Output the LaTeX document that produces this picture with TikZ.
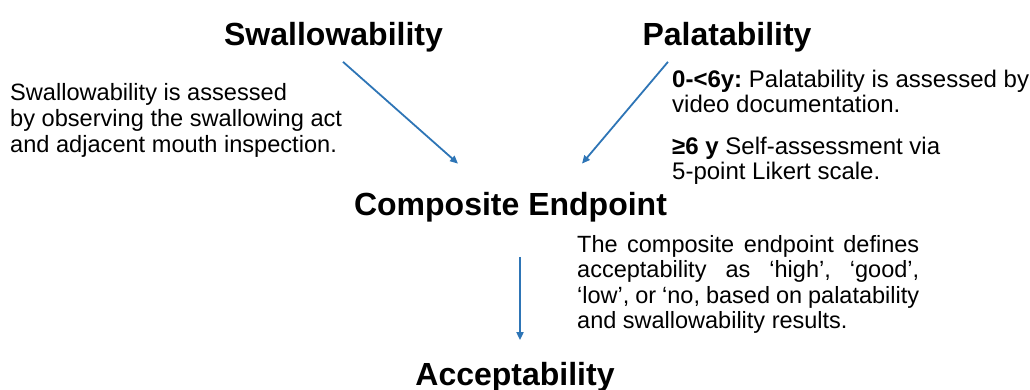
\documentclass[tikz,border=0pt]{standalone}
\usepackage{fontspec}
\setmainfont{Liberation Sans}
\usetikzlibrary{arrows.meta}
\definecolor{linkblue}{RGB}{46,117,182}
\frenchspacing

\begin{document}
\begin{tikzpicture}[x=1pt,y=-1pt,
  title/.style={inner sep=0pt,anchor=base,font=\fontsize{32}{38}\selectfont\bfseries},
  note/.style={inner sep=0pt,anchor=north west,font=\fontsize{23.6}{26}\selectfont},
  link/.style={draw=linkblue,line width=1.8pt,-{Triangle[length=8pt,width=7pt]}}]

\useasboundingbox (0,0) rectangle (1030,389);

\node[title] (swallow) at (333.5,45) {Swallowability};
\node[title] (palat) at (727,45) {Palatability};
\node[title] (composite) at (510.5,215) {Composite Endpoint};
\node[title] (accept) at (515,385) {Acceptability};

\node[note,align=left] (swallownote) at (10,83)
  {Swallowability is assessed\\by observing the swallowing act\\and adjacent mouth inspection.};
\node[note,align=left,font=\fontsize{24}{25}\selectfont] (palatnote) at (672,69.5)
  {\textbf{0-<6y:} Palatability is assessed by\\video documentation.\\[17pt]\textbf{≥6 y} Self-assessment via\\5-point Likert scale.};
\node[note,text width=342pt,align=justify,font=\fontsize{23.5}{25.4}\selectfont] (compositenote) at (577,235)
  {The composite endpoint defines\linebreak acceptability as ‘high’, ‘good’,\linebreak ‘low’, or ‘no, based on palatability\linebreak and swallowability results.};

\draw[link] ([xshift=9.5pt,yshift=-10pt]swallow.south) -- ([xshift=-52.5pt,yshift=28pt]composite.north);
\draw[link] ([xshift=-59pt,yshift=-10pt]palat.south) -- ([xshift=71.5pt,yshift=28pt]composite.north);
\draw[link] ([xshift=9.5pt,yshift=-35pt]composite.south) -- ([xshift=5pt,yshift=21.5pt]accept.north);

\end{tikzpicture}
\end{document}
